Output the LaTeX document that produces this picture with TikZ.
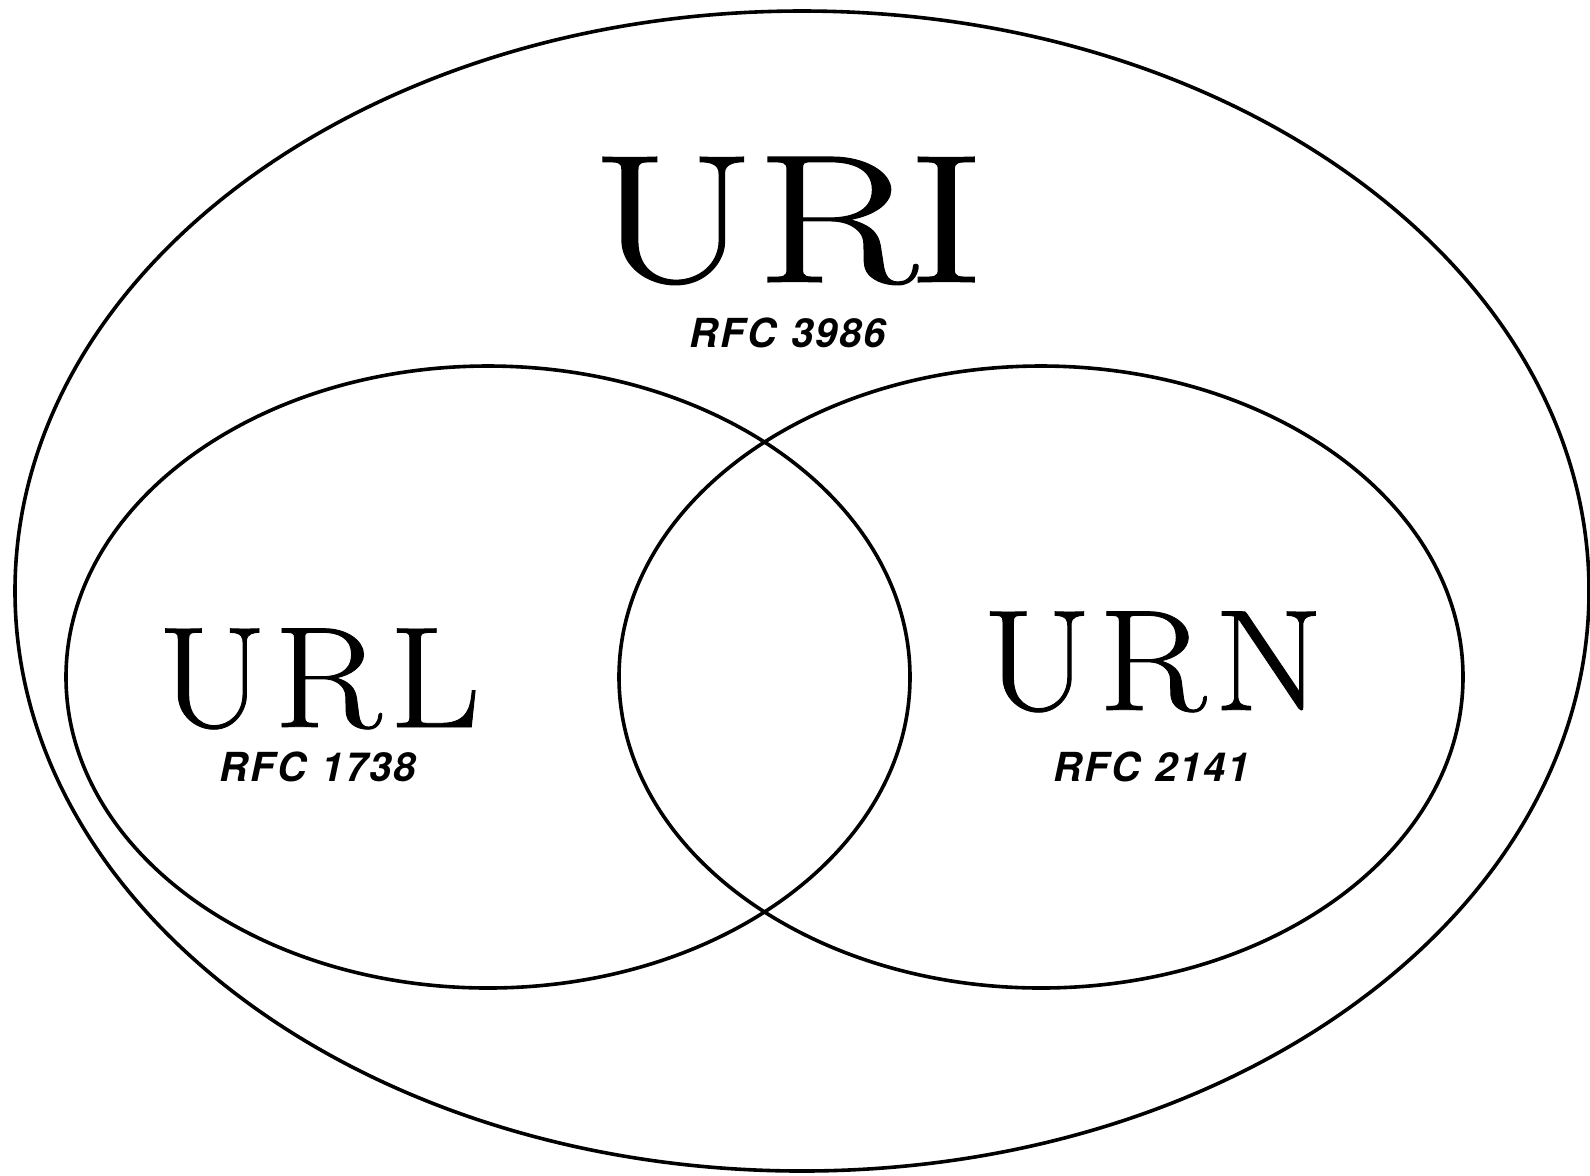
\documentclass[tikz,border=0pt]{standalone}
\usepackage{fontspec}
\usepackage{graphicx}
\setsansfont{TeX Gyre Heros}
\newfontfamily\titleserif[FakeBold=0.6]{Latin Modern Roman}
\newcommand{\trk}[1]{\hspace{#1}}
\newcommand{\wide}[2]{\scalebox{#1}[1]{#2}}
\begin{document}
\begin{tikzpicture}[x=0.5pt,y=-0.5pt,
  ring/.style={draw=black,line width=1.8pt},
  bigtitle/.style={inner sep=0pt,anchor=base,text depth=0pt,font=\titleserif\fontsize{91.5}{100}\selectfont},
  midtitle/.style={inner sep=0pt,anchor=base,text depth=0pt,font=\titleserif\fontsize{72}{80}\selectfont},
  rfc/.style={inner sep=0pt,anchor=base,text depth=0pt,text height=14pt,font=\sffamily\bfseries\itshape\fontsize{20}{22}\selectfont}]
\useasboundingbox (0,0) rectangle (1590,1175);
\fill[white] (0,0) rectangle (1590,1175);
\draw[ring] (802,591) ellipse [x radius=787, y radius=580];
\draw[ring] (488,677) ellipse [x radius=422, y radius=311];
\draw[ring] (1041,677) ellipse [x radius=422, y radius=311];
\node[bigtitle] (uri) at (788,282) {\wide{1.3}{U\trk{0pt}R\trk{-4pt}I}};
\node[rfc] (urirfc) at (788,347) {R\trk{1pt}F\trk{1pt}C\trk{2pt} 3\trk{1pt}9\trk{1pt}8\trk{1pt}6};
\node[midtitle] (url) at (319,727) {\wide{1.1}{U\trk{3pt}R\trk{3.5pt}L}};
\node[rfc] (urlrfc) at (318,781) {R\trk{1pt}F\trk{1pt}C\trk{2pt} 1\trk{1pt}7\trk{1pt}3\trk{1pt}8};
\node[midtitle] (urn) at (1153,710) {\wide{1.1}{U\trk{3pt}R\trk{3.5pt}N}};
\node[rfc] (urnrfc) at (1152,781) {R\trk{1pt}F\trk{1pt}C\trk{2pt} 2\trk{1pt}1\trk{1pt}4\trk{1pt}1};
\end{tikzpicture}
\end{document}
